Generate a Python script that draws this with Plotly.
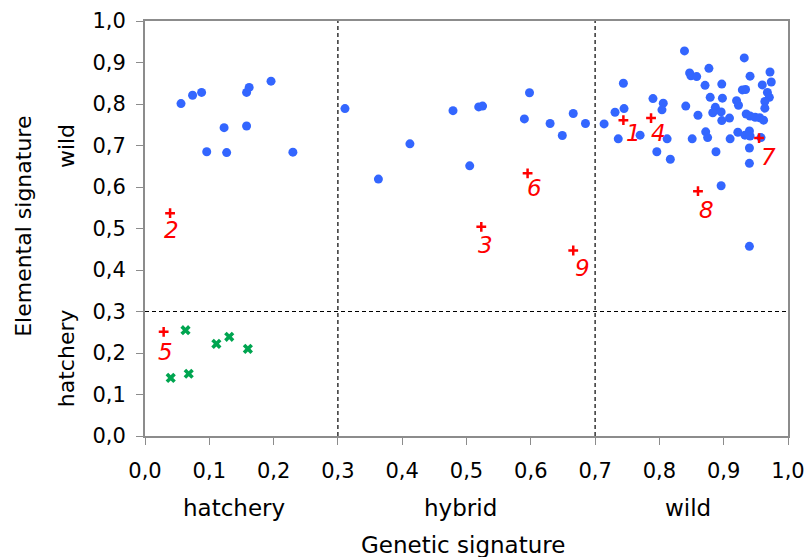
import plotly.graph_objects as go

# ---- data ----
wild_x = [0.056, 0.074, 0.088, 0.158, 0.162, 0.196, 0.123, 0.158, 0.096, 0.127, 0.230, 0.311,
          0.479, 0.519, 0.525, 0.598, 0.590, 0.630, 0.666, 0.685, 0.649, 0.714, 0.412, 0.363, 0.505,
          0.839, 0.932, 0.847, 0.849, 0.858, 0.877, 0.941, 0.972, 0.974, 0.744, 0.871, 0.897, 0.960,
          0.929, 0.934, 0.968, 0.971, 0.879, 0.898, 0.790, 0.806, 0.920, 0.923, 0.964, 0.964, 0.841,
          0.887, 0.883, 0.896, 0.804, 0.745, 0.731, 0.860, 0.935, 0.941, 0.949, 0.956, 0.962, 0.897,
          0.909, 0.736, 0.770, 0.812, 0.851, 0.872, 0.875, 0.910, 0.922, 0.933, 0.940, 0.941, 0.958,
          0.796, 0.817, 0.888, 0.940, 0.940, 0.896, 0.940]
wild_y = [0.801, 0.821, 0.828, 0.828, 0.840, 0.855, 0.743, 0.747, 0.685, 0.683, 0.684, 0.789,
          0.784, 0.793, 0.795, 0.827, 0.764, 0.753, 0.777, 0.753, 0.724, 0.752, 0.704, 0.619, 0.651,
          0.928, 0.911, 0.875, 0.868, 0.866, 0.886, 0.867, 0.877, 0.853, 0.850, 0.845, 0.848, 0.846,
          0.834, 0.835, 0.828, 0.816, 0.816, 0.814, 0.813, 0.802, 0.808, 0.797, 0.806, 0.790, 0.795,
          0.792, 0.779, 0.781, 0.786, 0.789, 0.780, 0.773, 0.776, 0.771, 0.768, 0.767, 0.761, 0.760,
          0.766, 0.716, 0.725, 0.716, 0.716, 0.733, 0.719, 0.716, 0.732, 0.725, 0.735, 0.723, 0.719,
          0.685, 0.667, 0.685, 0.694, 0.657, 0.603, 0.457]

hatch_x = [0.063, 0.040, 0.068, 0.111, 0.131, 0.160]
hatch_y = [0.255, 0.140, 0.150, 0.222, 0.239, 0.210]

odd_labels = ["1", "2", "3", "4", "5", "6", "7", "8", "9"]
odd_x = [0.744, 0.039, 0.523, 0.787, 0.029, 0.595, 0.955, 0.860, 0.666]
odd_y = [0.761, 0.537, 0.504, 0.766, 0.251, 0.633, 0.718, 0.590, 0.447]

zone_labels = ["hatchery", "hybrid", "wild"]
zone_centers = [0.138, 0.491, 0.844]
thresholds = [0.3, 0.7]
y_threshold = 0.3
tick_vals = [0.0, 0.1, 0.2, 0.3, 0.4, 0.5, 0.6, 0.7, 0.8, 0.9, 1.0]

# ---- style ----
FONT = "DejaVu Sans"
label_shift = {"1": (10, -13), "2": (1, -17), "3": (4, -18), "4": (7, -15), "5": (2, -20),
               "6": (7, -15), "7": (9, -19), "8": (9, -19), "9": (9, -17)}

fig = go.Figure()
fig.add_trace(go.Scatter(x=wild_x, y=wild_y, mode="markers",
                         marker=dict(symbol="circle", size=9, color="#3366FF"), showlegend=False))
fig.add_trace(go.Scatter(x=hatch_x, y=hatch_y, mode="markers",
                         marker=dict(symbol="x", size=9, color="#00A550"), showlegend=False))
fig.add_trace(go.Scatter(x=odd_x, y=odd_y, mode="markers",
                         marker=dict(symbol="cross-thin", size=7, color="#FF0000",
                                     line=dict(color="#FF0000", width=2.5)), showlegend=False))

for lab, xv, yv in zip(odd_labels, odd_x, odd_y):
    dx, dy = label_shift[lab]
    fig.add_annotation(x=xv, y=yv, text=lab, showarrow=False, xshift=dx, yshift=dy,
                       font=dict(family=FONT, size=23, color="#FF0000", style="italic"))

for t in thresholds:
    fig.add_shape(type="line", x0=t, x1=t, y0=0, y1=1, xref="x", yref="y",
                  line=dict(color="black", width=1.2, dash="4px,3px"))
fig.add_shape(type="line", x0=0, x1=1, y0=y_threshold, y1=y_threshold, xref="x", yref="y",
              line=dict(color="black", width=1.2, dash="4px,3px"))

for lab, xc in zip(zone_labels, zone_centers):
    fig.add_annotation(x=xc, y=-0.173, xref="x", yref="paper", text=lab, showarrow=False,
                       yanchor="middle", font=dict(family=FONT, size=23, color="black"))

fig.add_annotation(x=0.495, y=-0.263, xref="x", yref="paper", text="Genetic signature",
                   showarrow=False, yanchor="middle", font=dict(family=FONT, size=23, color="black"))
fig.add_annotation(x=-0.190, y=0.506, xref="paper", yref="paper", text="Elemental signature",
                   showarrow=False, textangle=-90, xanchor="center", yanchor="middle",
                   font=dict(family=FONT, size=22, color="black"))
fig.add_annotation(x=-0.121, y=0.699, xref="paper", yref="paper", text="wild",
                   showarrow=False, textangle=-90, xanchor="center", yanchor="middle",
                   font=dict(family=FONT, size=22, color="black"))
fig.add_annotation(x=-0.121, y=0.188, xref="paper", yref="paper", text="hatchery",
                   showarrow=False, textangle=-90, xanchor="center", yanchor="middle",
                   font=dict(family=FONT, size=22, color="black"))

axis_common = dict(tickvals=tick_vals, tickformat=".1f", showgrid=False, zeroline=False,
                   showline=True, linecolor="#8C8C8C", linewidth=2, mirror=True,
                   ticks="outside", ticklen=7, tickcolor="#8C8C8C", tickwidth=1,
                   automargin=False,
                   tickfont=dict(family=FONT, size=21, color="black"))

fig.update_xaxes(range=[0, 1], ticklabelstandoff=8, **axis_common)
fig.update_yaxes(range=[0, 1], ticklabelstandoff=6, **axis_common)

fig.update_layout(width=806, height=557, separators=",.",
                  margin=dict(l=145, r=18, t=21, b=121, autoexpand=False),
                  plot_bgcolor="white", paper_bgcolor="white")

fig.write_html("out.html")
